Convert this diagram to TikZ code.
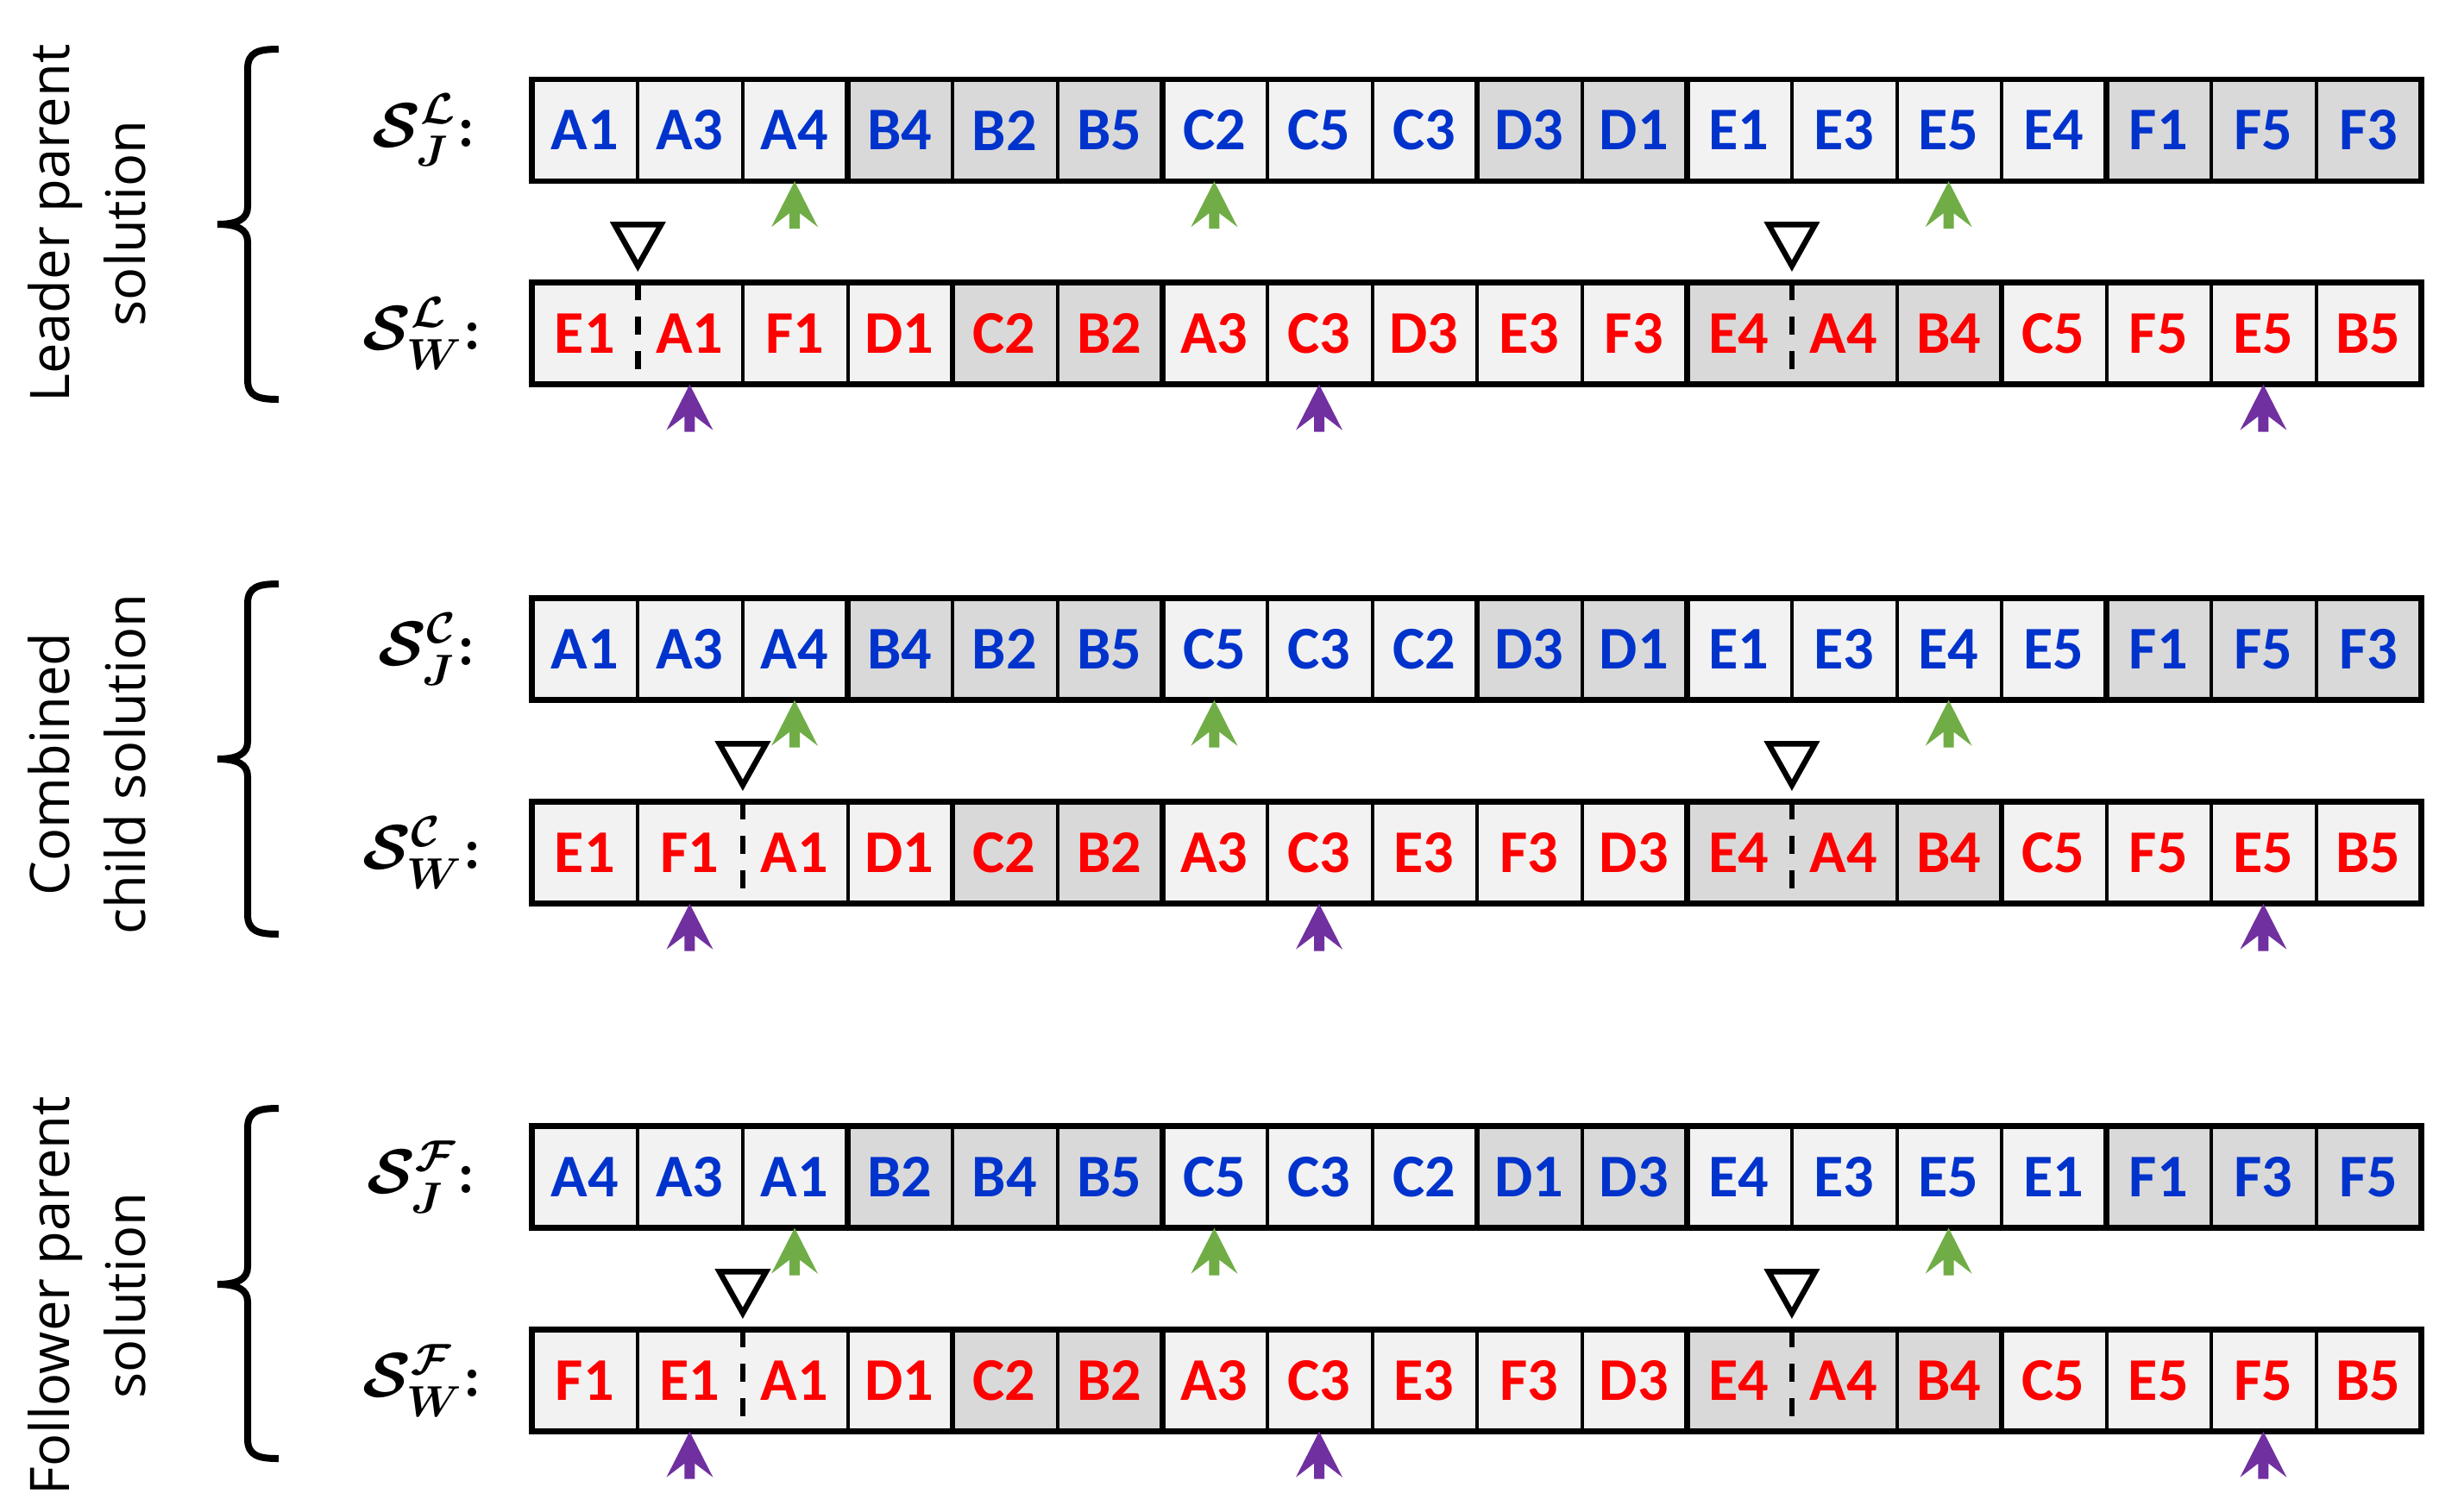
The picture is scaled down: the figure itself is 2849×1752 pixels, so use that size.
\documentclass[tikz,border=0pt]{standalone}
\usepackage{fontspec}
\setsansfont{Carlito}
\newfontfamily\sidefont{Open Sans}
\usetikzlibrary{arrows}
\definecolor{jobblue}{RGB}{0,51,204}
\definecolor{machred}{RGB}{255,0,0}
\definecolor{cellA}{RGB}{242,242,242}
\definecolor{cellB}{RGB}{217,217,217}
\definecolor{pickgreen}{RGB}{112,173,71}
\definecolor{pickpurple}{RGB}{112,48,160}

\begin{document}
\begin{tikzpicture}[line join=miter,x=0.1mm,y=-0.1mm,
	cell/.style={inner sep=0pt,minimum width=12.16mm,minimum height=11.7mm,font=\sffamily\bfseries\fontsize{20}{24}\selectfont},
	divider/.style={line width=0.4mm},
	frame/.style={line width=0.65mm},
	cut/.style={line width=0.65mm,dash pattern=on 2.1mm off 1.9mm},
	cutmark/.style={line width=0.65mm,fill=white},
	curly/.style={line width=0.8mm},
	rowlab/.style={anchor=east,font=\fontsize{20}{24}\selectfont},
	side/.style={rotate=90,align=center,font=\sidefont\fontsize{18}{25}\selectfont}]
				\useasboundingbox (0,0) rectangle (2849,1752);
				% leader parent solution
				\foreach \lab/\fil [count=\i] in {A1/cellA,A3/cellA,A4/cellA,B4/cellB,B2/cellB,B5/cellB,C2/cellA,C5/cellA,C3/cellA,D3/cellB,D1/cellB,E1/cellA,E3/cellA,E5/cellA,E4/cellA,F1/cellB,F5/cellB,F3/cellB}
					\node[cell,fill=\fil,text=jobblue] (LJ\i) at ({617+121.6*(\i-0.5)},151) {\lab};
				\foreach \lab/\fil [count=\i] in {E1/cellA,A1/cellA,F1/cellA,D1/cellA,C2/cellB,B2/cellB,A3/cellA,C3/cellA,D3/cellA,E3/cellA,F3/cellA,E4/cellB,A4/cellB,B4/cellB,C5/cellA,F5/cellA,E5/cellA,B5/cellA}
					\node[cell,fill=\fil,text=machred] (LW\i) at ({617+121.6*(\i-0.5)},386.5) {\lab};
				% combined child solution
				\foreach \lab/\fil [count=\i] in {A1/cellA,A3/cellA,A4/cellA,B4/cellB,B2/cellB,B5/cellB,C5/cellA,C3/cellA,C2/cellA,D3/cellB,D1/cellB,E1/cellA,E3/cellA,E4/cellA,E5/cellA,F1/cellB,F5/cellB,F3/cellB}
					\node[cell,fill=\fil,text=jobblue] (CJ\i) at ({617+121.6*(\i-0.5)},752.5) {\lab};
				\foreach \lab/\fil [count=\i] in {E1/cellA,F1/cellA,A1/cellA,D1/cellA,C2/cellB,B2/cellB,A3/cellA,C3/cellA,E3/cellA,F3/cellA,D3/cellA,E4/cellB,A4/cellB,B4/cellB,C5/cellA,F5/cellA,E5/cellA,B5/cellA}
					\node[cell,fill=\fil,text=machred] (CW\i) at ({617+121.6*(\i-0.5)},988.5) {\lab};
				% follower parent solution
				\foreach \lab/\fil [count=\i] in {A4/cellA,A3/cellA,A1/cellA,B2/cellB,B4/cellB,B5/cellB,C5/cellA,C3/cellA,C2/cellA,D1/cellB,D3/cellB,E4/cellA,E3/cellA,E5/cellA,E1/cellA,F1/cellB,F3/cellB,F5/cellB}
					\node[cell,fill=\fil,text=jobblue] (FJ\i) at ({617+121.6*(\i-0.5)},1364.5) {\lab};
				\foreach \lab/\fil [count=\i] in {F1/cellA,E1/cellA,A1/cellA,D1/cellA,C2/cellB,B2/cellB,A3/cellA,C3/cellA,E3/cellA,F3/cellA,D3/cellA,E4/cellB,A4/cellB,B4/cellB,C5/cellA,E5/cellA,F5/cellA,B5/cellA}
					\node[cell,fill=\fil,text=machred] (FW\i) at ({617+121.6*(\i-0.5)},1600.5) {\lab};
				% cell borders
				\foreach \r in {LJ,CJ,FJ} {
					\foreach \k in {1,2,4,5,7,8,10,12,13,14,16,17} \draw[divider] (\r\k.north east) -- (\r\k.south east);
					\foreach \k in {3,6,9,11,15} \draw[frame] (\r\k.north east) -- (\r\k.south east);
					\draw[frame] (\r1.north west) rectangle (\r18.south east);
				}
				\foreach \k in {2,3,5,7,8,9,10,13,15,16,17} \draw[divider] (LW\k.north east) -- (LW\k.south east);
				\foreach \r in {CW,FW}
					\foreach \k in {1,3,5,7,8,9,10,13,15,16,17} \draw[divider] (\r\k.north east) -- (\r\k.south east);
				\foreach \r in {LW,CW,FW} {
					\foreach \k in {4,6,11,14} \draw[frame] (\r\k.north east) -- (\r\k.south east);
					\draw[frame] (\r1.north west) rectangle (\r18.south east);
				}
				% cut points
				\foreach \n in {LW1,LW12,CW2,CW12,FW2,FW12} {
					\draw[cut] (\n.north east) -- (\n.south east);
					\draw[cutmark] (\n.north east) ++(-27,-67) -- ++(54,0) -- ++(-27,48) -- cycle;
				}
				% selected genes
				\foreach \n in {LJ3,LJ7,LJ14,CJ3,CJ7,CJ14,FJ3,FJ7,FJ14}
					\fill[pickgreen] (\n.south) -- ++(27,53) -- ++(-21,-16) -- ++(0,18) -- ++(-12,0) -- ++(0,-18) -- ++(-21,16) -- cycle;
				\foreach \n in {LW2,LW8,LW17,CW2,CW8,CW17,FW2,FW8,FW17}
					\fill[pickpurple] (\n.south) -- ++(27,53) -- ++(-21,-16) -- ++(0,18) -- ++(-12,0) -- ++(0,-18) -- ++(-21,16) -- cycle;
				% row labels
				\node[rowlab] (LJlab) at (564,151) {{\boldmath$\mathcal{S}^{\mathcal{L}}_{J}$}\textbf{:}};
				\node[rowlab] (LWlab) at (571,386.5) {{\boldmath$\mathcal{S}^{\mathcal{L}}_{W}$}\textbf{:}};
				\node[rowlab] (CJlab) at (564,752.5) {{\boldmath$\mathcal{S}^{\mathcal{C}}_{J}$}\textbf{:}};
				\node[rowlab] (CWlab) at (571,988.5) {{\boldmath$\mathcal{S}^{\mathcal{C}}_{W}$}\textbf{:}};
				\node[rowlab] (FJlab) at (564,1364.5) {{\boldmath$\mathcal{S}^{\mathcal{F}}_{J}$}\textbf{:}};
				\node[rowlab] (FWlab) at (571,1600.5) {{\boldmath$\mathcal{S}^{\mathcal{F}}_{W}$}\textbf{:}};
				% braces
				\draw[curly] (323,57) .. controls (300,57) and (287,60) .. (287,80) -- (287,240) .. controls (287,254) and (275,260) .. (252,260) .. controls (275,260) and (287,266) .. (287,280) -- (287,440) .. controls (287,460) and (300,463) .. (323,463);
				\draw[curly] (323,677) .. controls (300,677) and (287,680) .. (287,700) -- (287,860) .. controls (287,874) and (275,880) .. (252,880) .. controls (275,880) and (287,886) .. (287,900) -- (287,1060) .. controls (287,1080) and (300,1083) .. (323,1083);
				\draw[curly] (323,1285) .. controls (300,1285) and (287,1288) .. (287,1308) -- (287,1469) .. controls (287,1483) and (275,1489) .. (252,1489) .. controls (275,1489) and (287,1495) .. (287,1509) -- (287,1668) .. controls (287,1688) and (300,1691) .. (323,1691);
				% section labels
				\node[side] (Lside) at (101,259) {Leader parent\\solution};
				\node[side] (Cside) at (101,886) {Combined\\child solution};
				\node[side] (Fside) at (101,1502) {Follower parent\\solution};
\end{tikzpicture}
\end{document}
